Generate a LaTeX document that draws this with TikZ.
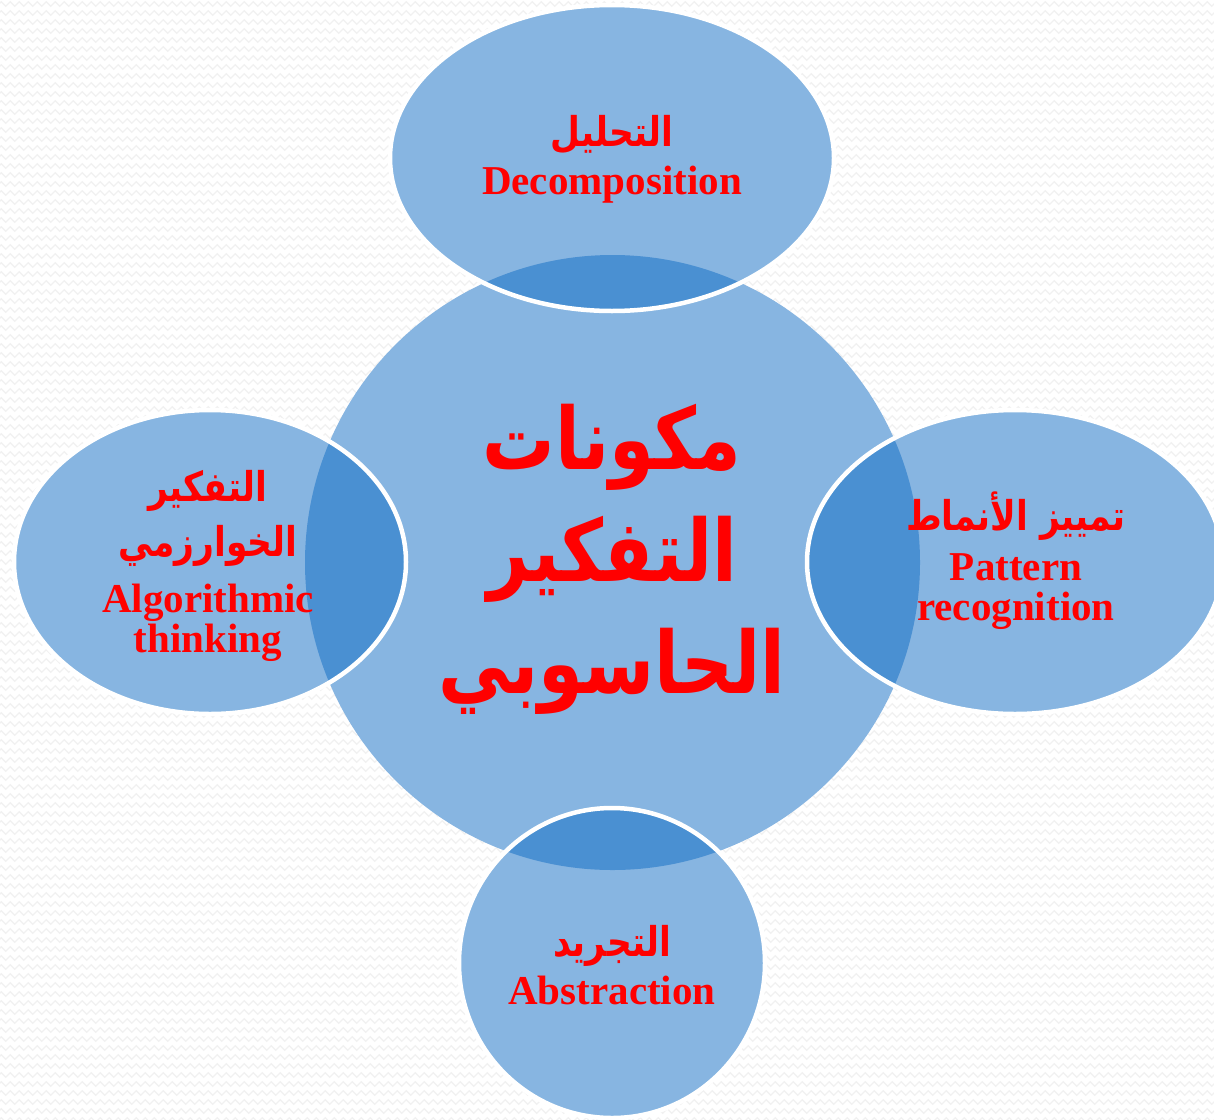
\documentclass[tikz,border=0pt]{standalone}
\usepackage{fontspec}
\setmainfont{Liberation Serif}
\newfontfamily\arabicnarrow[Script=Arabic,FakeStretch=0.84]{DejaVu Sans}
\TeXXeTstate=1
\usetikzlibrary{decorations.pathmorphing}
\newcommand{\AR}[1]{{\arabicnarrow\bfseries\fontsize{41}{40}\selectfont\beginR #1\endR}}
\newcommand{\ARN}[1]{{\arabicnarrow\bfseries\beginR #1\endR}}
\definecolor{lightblue}{RGB}{135,181,225}
\definecolor{darkblue}{RGB}{74,144,210}
\definecolor{txtred}{RGB}{255,0,0}
\definecolor{bgline}{RGB}{241,241,241}
\tikzset{
  bgzig/.style={draw=bgline, line width=1.2pt, decorate,
    decoration={zigzag, segment length=9pt, amplitude=2.2pt}},
  satfill/.style={fill=lightblue},
  overlap/.style={fill=darkblue},
  satborder/.style={draw=white, line width=4.5pt},
  lbl/.style={text=txtred, align=center, font=\bfseries\fontsize{41}{40}\selectfont},
  bigtxt/.style={text=txtred, align=center, font=\fontsize{86}{112}\selectfont},
}
\begin{document}
\begin{tikzpicture}[x=1pt,y=-1pt]
\useasboundingbox (0,0) rectangle (1214,1119);
\fill[white] (0,0) rectangle (1214,1119);
\begin{scope}
\clip (0,0) rectangle (1214,1119);
\foreach \yy in {4,13,...,1125} {
  \path[bgzig] (-10,\yy) -- (1230,\yy);
}
% central circle
\fill[lightblue] (612.5,562.5) circle [radius=307.5pt];
% top ellipse
\fill[satfill] (612,158) ellipse [x radius=222pt, y radius=153pt];
\begin{scope}
  \clip (612,158) ellipse [x radius=222pt, y radius=153pt];
  \fill[overlap] (612.5,562.5) circle [radius=307.5pt];
\end{scope}
\draw[satborder] (612,158) ellipse [x radius=222pt, y radius=153pt];
% left ellipse
\fill[satfill] (210,562) ellipse [x radius=196pt, y radius=152pt];
\begin{scope}
  \clip (210,562) ellipse [x radius=196pt, y radius=152pt];
  \fill[overlap] (612.5,562.5) circle [radius=307.5pt];
\end{scope}
\draw[satborder] (210,562) ellipse [x radius=196pt, y radius=152pt];
% right ellipse
\fill[satfill] (1015,562) ellipse [x radius=208pt, y radius=152pt];
\begin{scope}
  \clip (1015,562) ellipse [x radius=208pt, y radius=152pt];
  \fill[overlap] (612.5,562.5) circle [radius=307.5pt];
\end{scope}
\draw[satborder] (1015,562) ellipse [x radius=208pt, y radius=152pt];
% bottom ellipse
\fill[satfill] (612,963) ellipse [x radius=153pt, y radius=155pt];
\begin{scope}
  \clip (612,963) ellipse [x radius=153pt, y radius=155pt];
  \fill[overlap] (612.5,562.5) circle [radius=307.5pt];
\end{scope}
\draw[satborder] (612,963) ellipse [x radius=153pt, y radius=155pt];
\end{scope}
% texts
\node[bigtxt] (center) at (612,559) {\ARN{مكونات}\\\ARN{التفكير}\\\ARN{الحاسوبي}};
\node[lbl] (top) at (612,159) {\AR{التحليل}\\[8pt]Decomposition};
\node[lbl] (left) at (208,566) {\AR{التفكير}\\[12pt]\AR{الخوارزمي}\\[16pt]Algorithmic\\thinking};
\node[lbl] (right) at (1016,561) {\AR{تمييز الأنماط}\\[10pt]Pattern\\recognition};
\node[lbl] (bottom) at (612,965) {\AR{التجريد}\\[8pt]Abstraction};
\end{tikzpicture}
\end{document}
